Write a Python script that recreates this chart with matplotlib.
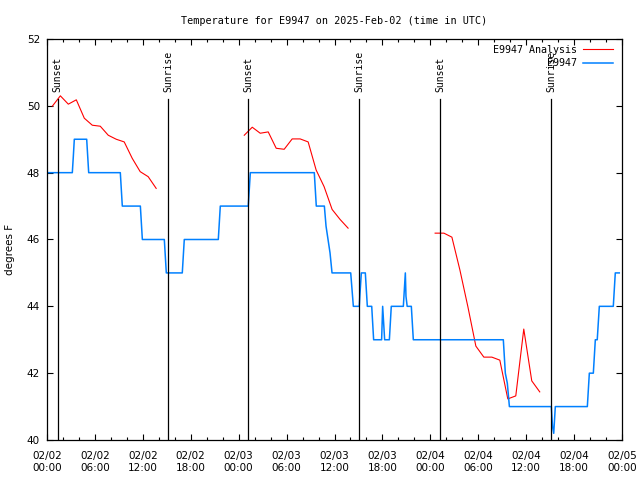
import numpy as np
import pandas as pd
import matplotlib
matplotlib.use("Agg")
import matplotlib.pyplot as plt
import matplotlib.dates as mdates

# observed temperatures (hours after 2025-02-02 00:00 UTC, deg F)
obs_hours = [0, 3.17, 3.30, 3.42, 4.97, 5.22, 9.18, 9.43, 11.69, 11.94, 14.69, 14.94,
             16.94, 17.19, 21.45, 21.70, 25.20, 25.46, 33.47, 33.72, 34.73, 34.94,
             35.19, 35.44, 35.69, 38.03, 38.36, 39.10, 39.17, 39.36, 39.86, 40.11,
             40.66, 40.90, 41.90, 42.03, 42.28, 42.87, 43.11, 44.62, 44.87, 44.95,
             45.10, 45.62, 45.87, 57.14, 57.39, 57.64, 57.90, 63.15, 63.30, 63.45,
             63.55, 63.65, 67.66, 67.91, 68.41, 68.66, 68.90, 69.16, 70.91, 71.16, 71.66]
obs_temp = [48, 48, 48.5, 49, 49, 48, 48, 47, 47, 46, 46, 45,
            45, 46, 46, 47, 47, 48, 48, 47, 47, 46.4,
            46.0, 45.6, 45, 45, 44, 44, 44.3, 45, 45, 44,
            44, 43, 43, 44, 43, 43, 44, 44, 45, 44.3,
            44, 44, 43, 43, 42, 41.7, 41, 41, 40.4, 40.2,
            40.6, 41, 41, 42, 42, 43, 43, 44, 44, 45, 45]

# analysis temperatures, three runs (NaN = gap)
ana_hours = [0.67, 1.67, 2.67, 3.67, 4.67, 5.67, 6.67, 7.67, 8.67, 9.67, 10.67, 11.67, 12.67, 13.67,
             13.8,
             24.7, 25.7, 26.7, 27.7, 28.7, 29.7, 30.7, 31.7, 32.7, 33.7, 34.7, 35.7, 36.7, 37.7,
             37.8,
             48.6, 49.7, 50.7, 51.7, 52.7, 53.7, 54.7, 55.7, 56.7, 57.7, 58.7, 59.7, 60.7, 61.7]
ana_temp = [49.99, 50.30, 50.05, 50.18, 49.63, 49.42, 49.39, 49.12, 49.00, 48.92, 48.43, 48.03, 47.88, 47.53,
            np.nan,
            49.12, 49.36, 49.18, 49.22, 48.73, 48.70, 49.01, 49.01, 48.92, 48.08, 47.58, 46.90, 46.60, 46.34,
            np.nan,
            46.19, 46.19, 46.07, 45.09, 43.99, 42.81, 42.48, 42.48, 42.39, 41.23, 41.32, 43.32, 41.77, 41.44]

sun_hours = [1.34, 15.19, 25.2, 39.1, 49.25, 63.15]
sun_labels = ["Sunset", "Sunrise", "Sunset", "Sunrise", "Sunset", "Sunrise"]

start = pd.Timestamp("2025-02-02 00:00")
def to_time(hours):
    return start + pd.to_timedelta(np.array(hours), unit="h")

mono = "DejaVu Sans Mono"
plt.rcParams["font.family"] = "DejaVu Sans"

fig = plt.figure(figsize=(6.4, 4.8), dpi=100)
ax = fig.add_axes([47 / 640, 40 / 480, 575 / 640, 401 / 480])

ax.plot(to_time(ana_hours), ana_temp, color="#ff0000", lw=0.8, label="E9947 Analysis")
ax.plot(to_time(obs_hours), obs_temp, color="#0080ff", lw=1.1, label="E9947")

for h, lab in zip(sun_hours, sun_labels):
    t = to_time([h])[0]
    ax.plot([t, t], [40, 50.2], color="black", lw=0.9)
    ax.text(t, 50.42, lab, rotation=90, ha="center", va="bottom",
            fontsize=7, family=mono)

ax.set_xlim(start, start + pd.Timedelta(hours=72))
ax.set_ylim(40, 52)
ax.set_yticks(np.arange(40, 53, 2))
ax.xaxis.set_major_locator(mdates.HourLocator(byhour=[0, 6, 12, 18]))
ax.xaxis.set_minor_locator(mdates.HourLocator(interval=2))
ax.xaxis.set_major_formatter(mdates.DateFormatter("%m/%d\n%H:%M"))

ax.tick_params(axis="both", which="both", direction="in", top=True, right=True,
               labelsize=7.5)
ax.tick_params(axis="both", which="major", length=4, width=0.8)
ax.tick_params(axis="x", which="minor", length=2.5, width=0.8)
ax.tick_params(axis="x", which="major", pad=8)
ax.tick_params(axis="y", which="major", pad=5)
for s in ax.spines.values():
    s.set_linewidth(0.9)

ax.set_title("Temperature for E9947 on 2025-Feb-02 (time in UTC)",
             fontsize=7.3, family=mono, pad=11)
fig.text(10 / 640, 1 - 249 / 480, "degrees F", rotation=90, ha="center", va="center",
         fontsize=7.5)

ax.legend(loc="upper right", bbox_to_anchor=(0.995, 1.0), frameon=False, markerfirst=False,
          prop={"family": mono, "size": 7.2}, handlelength=3.0, handletextpad=0.6,
          labelspacing=0.35, borderaxespad=0.2)

fig.savefig("out.png", dpi=100)
